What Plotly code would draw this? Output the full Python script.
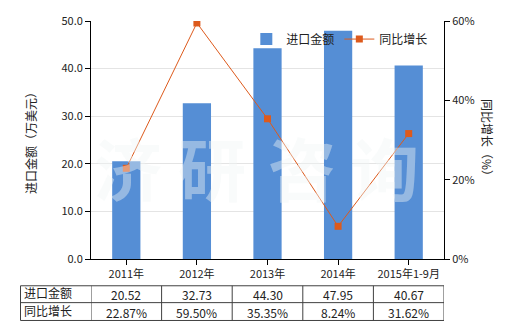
import plotly.graph_objects as go

categories = ["2011年", "2012年", "2013年", "2014年", "2015年1-9月"]
import_values = [20.52, 32.73, 44.30, 47.95, 40.67]
growth_pct = [22.87, 59.50, 35.35, 8.24, 31.62]
row_names = ["进口金额", "同比增长"]
watermark_chars = ["济", "研", "咨", "询"]

BAR = "#558ED5"
LINE = "#DD5A1C"
FONT = "Noto Sans CJK SC"
TXT = "#222222"

fig = go.Figure()
fig.add_trace(go.Bar(x=list(range(len(categories))), y=import_values, name="进口金额",
                     marker=dict(color=BAR, line=dict(width=0)), width=0.4, yaxis="y"))
fig.add_trace(go.Scatter(x=list(range(len(categories))), y=growth_pct, name="同比增长",
                         mode="lines+markers", yaxis="y2",
                         line=dict(color=LINE, width=1),
                         marker=dict(symbol="square", size=7, color=LINE)))

ann = []
# axis titles
ann.append(dict(text="进口金额（万美元）", xref="paper", yref="paper", x=(30 - 91) / 353, y=0.5,
                xanchor="center", yanchor="middle",
                textangle=-90, showarrow=False, font=dict(size=12, color=TXT, family=FONT)))
ann.append(dict(text="同比增长（%）", xref="paper", yref="paper", x=(488 - 91) / 353, y=0.5,
                xanchor="center", yanchor="middle",
                textangle=90, showarrow=False, font=dict(size=12, color=TXT, family=FONT)))

# watermark
wx_px = [128, 212, 302, 385]
for ch, px in zip(watermark_chars, wx_px):
    ann.append(dict(text="<b>" + ch + "</b>", xref="paper", yref="paper", x=(px - 91) / 353,
                    y=(259 - 166) / 240, xanchor="center", yanchor="middle", showarrow=False,
                    font=dict(size=68, color="rgba(240,246,246,0.42)", family=FONT)))

# table
n = len(categories)
row_y = [-0.1125, -0.1833, -0.2583]
left_x = (20.5 - 91) / 353
shapes = []
lc = dict(color="#404040", width=1)
for yy in row_y:
    shapes.append(dict(type="line", xref="paper", yref="paper", x0=left_x, x1=1.0, y0=yy, y1=yy, line=lc))
shapes.append(dict(type="line", xref="paper", yref="paper", x0=left_x, x1=left_x, y0=row_y[0], y1=row_y[-1], line=lc))
for i in range(n + 1):
    shapes.append(dict(type="line", xref="x", yref="paper", x0=i - 0.5, x1=i - 0.5,
                       y0=row_y[0], y1=row_y[-1], line=lc))
rows = [[f"{v:.2f}" for v in import_values], [f"{v:.2f}%" for v in growth_pct]]
for r in range(2):
    yc = (row_y[r] + row_y[r + 1]) / 2
    ann.append(dict(text=row_names[r], xref="paper", yref="paper", x=left_x + 0.004, y=yc + 0.006,
                    xanchor="left", yanchor="middle", showarrow=False,
                    font=dict(size=12, color=TXT, family=FONT)))
    for i, t in enumerate(rows[r]):
        ann.append(dict(text=t, xref="x", yref="paper", x=i, y=yc - 0.002, xanchor="center",
                        yanchor="middle", showarrow=False,
                        font=dict(size=12, color=TXT, family=FONT)))

fig.update_layout(
    width=520, height=330,
    margin=dict(l=91, r=76, t=19, b=71),
    paper_bgcolor="white", plot_bgcolor="white",
    font=dict(family=FONT, size=11, color=TXT),
    showlegend=True,
    legend=dict(orientation="h", x=0.44, y=0.985, xanchor="left", yanchor="top",
                bgcolor="rgba(0,0,0,0)", font=dict(size=12, family=FONT, color=TXT),
                itemwidth=30, tracegroupgap=0),
    xaxis=dict(range=[-0.5, n - 0.5], tickmode="array", tickvals=list(range(n)), ticktext=categories,
               showline=True, linecolor="black", linewidth=1, ticks="outside", ticklen=5,
               tickcolor="black", showgrid=False, zeroline=False, fixedrange=True,
               tickfont=dict(size=11, family=FONT, color=TXT)),
    yaxis=dict(range=[0, 50], dtick=10, tickformat=".1f", showline=True, linecolor="black",
               linewidth=1, ticks="outside", ticklen=5, tickcolor="black",
               showgrid=True, gridcolor="#e4e4e4", gridwidth=1, zeroline=False,
               tickfont=dict(size=11, family=FONT, color=TXT)),
    yaxis2=dict(range=[0, 60], dtick=20, ticksuffix="%", overlaying="y", side="right",
                showline=True, linecolor="black", linewidth=1, ticks="outside", ticklen=5,
                tickcolor="black", showgrid=False, zeroline=False,
                tickfont=dict(size=11, family=FONT, color=TXT)),
    annotations=ann, shapes=shapes, bargap=0.6,
)

fig.write_html("out.html")
